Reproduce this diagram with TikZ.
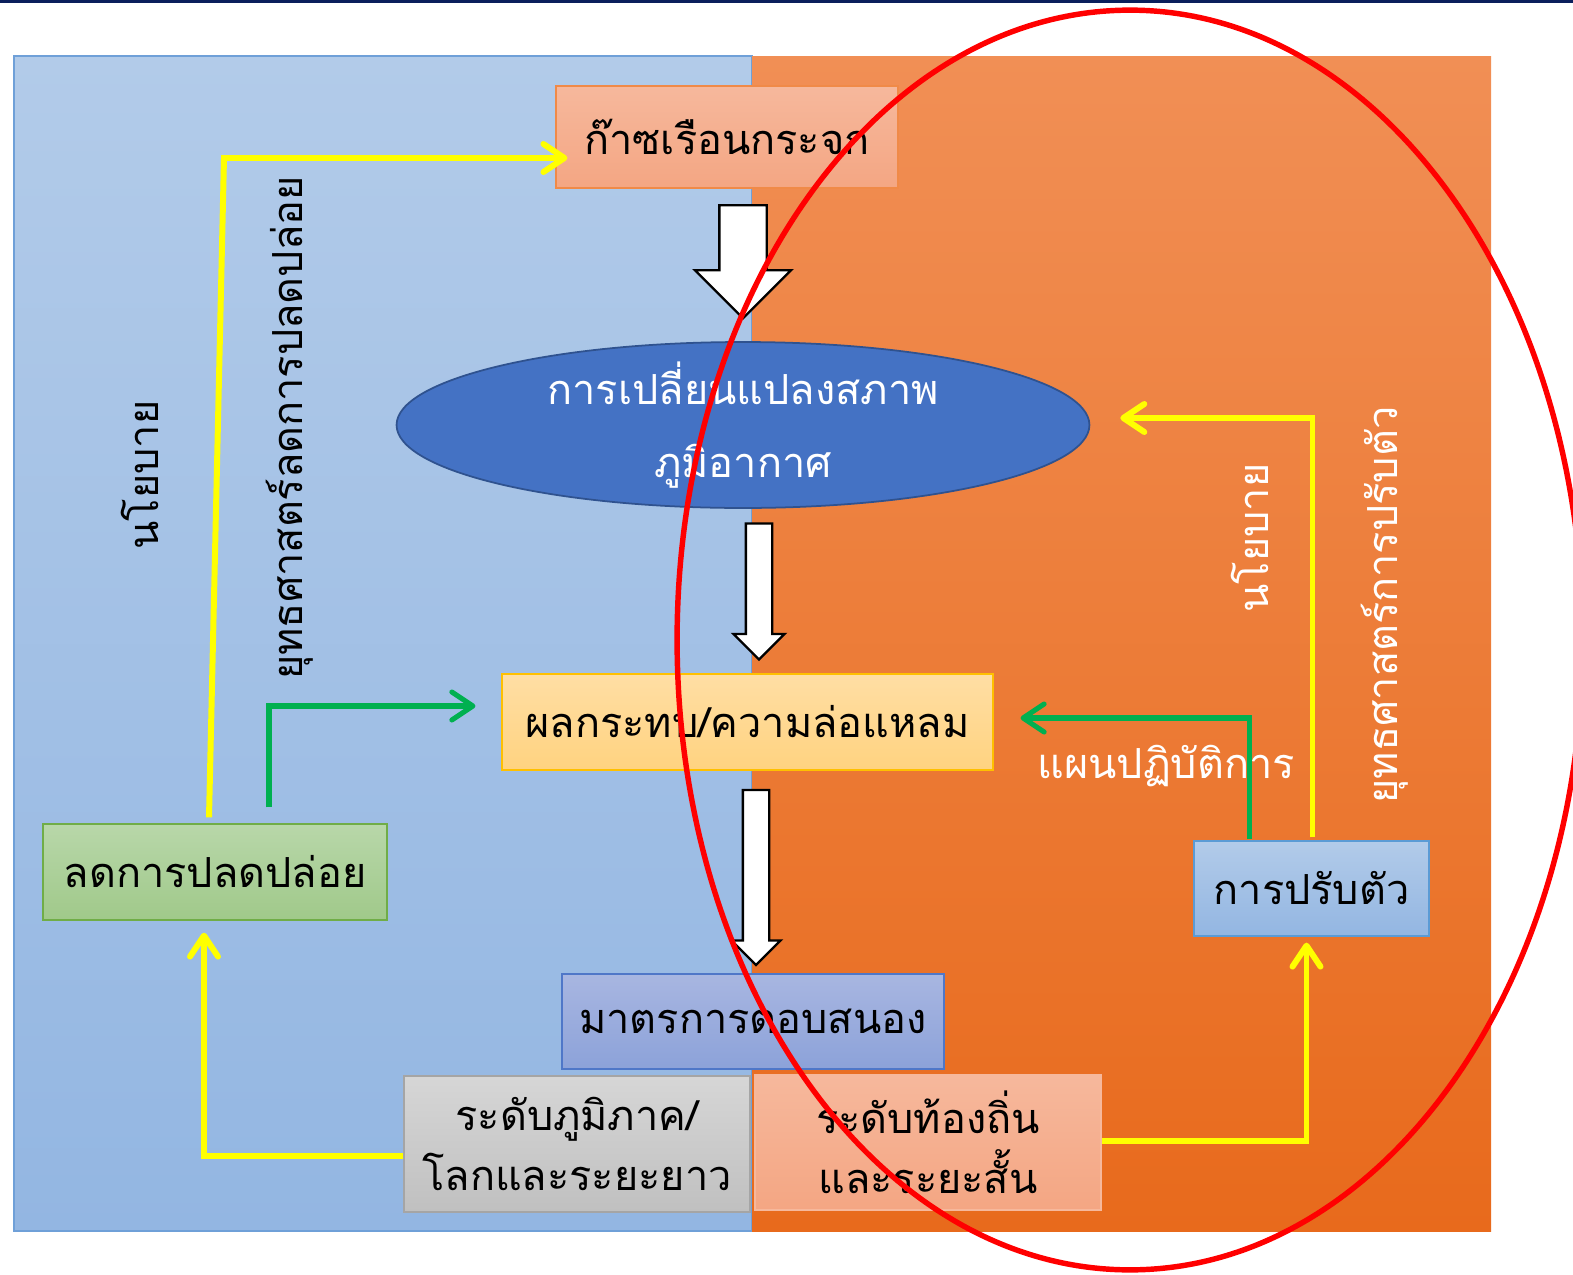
\documentclass[tikz,border=0pt]{standalone}
\usepackage{fontspec}
\newfontfamily\thaifont[Script=Thai]{Loma}
\usetikzlibrary{arrows.meta, calc, shapes.geometric, shapes.arrows}

\definecolor{topline}{HTML}{0B1F5C}
\definecolor{bluetop}{HTML}{B2CBE9}
\definecolor{bluebot}{HTML}{93B6E2}
\definecolor{blueedge}{HTML}{6FA0D8}
\definecolor{orangetop}{HTML}{F18F55}
\definecolor{orangemid}{HTML}{F47E30}
\definecolor{orangebot}{HTML}{E86A1C}
\definecolor{salmontop}{HTML}{F6B89C}
\definecolor{salmonbot}{HTML}{F4A683}
\definecolor{salmonedge}{HTML}{F08A48}
\definecolor{ellfill}{HTML}{4472C4}
\definecolor{elledge}{HTML}{2F528F}
\definecolor{goldtop}{HTML}{FFDEA4}
\definecolor{goldbot}{HTML}{FFD380}
\definecolor{goldedge}{HTML}{FFC000}
\definecolor{lilactop}{HTML}{A8B6E1}
\definecolor{lilacbot}{HTML}{8CA2D9}
\definecolor{lilacedge}{HTML}{4F77C8}
\definecolor{greentop}{HTML}{B8D7A9}
\definecolor{greenbot}{HTML}{A0C98A}
\definecolor{greenedge}{HTML}{70AD47}
\definecolor{greytop}{HTML}{D6D6D6}
\definecolor{greybot}{HTML}{C0C0C0}
\definecolor{greyedge}{HTML}{A5A5A5}
\definecolor{adaptedge}{HTML}{5B9BD5}
\definecolor{polyellow}{HTML}{FFFF00}
\definecolor{plangreen}{HTML}{00B050}
\definecolor{circlered}{HTML}{FF0000}

\begin{document}
\begin{tikzpicture}[
    x=0.02cm, y=-0.02cm,
    every node/.style={font=\thaifont\fontsize{23.6}{34}\selectfont},
    block/.style={
        draw,
        rectangle,
        align=center,
        inner sep=0pt,
        line width=0.7pt
    },
    bigarrow/.style={
        single arrow,
        draw=black,
        fill=white,
        line width=1.3pt,
        rotate=-90,
        inner xsep=0pt,
        minimum width=0pt
    },
    policy/.style={draw=polyellow, line width=3.4pt,
        -{Straight Barb[length=0.42cm, width=0.56cm, round]}},
    plan/.style={draw=plangreen, line width=2.9pt,
        -{Straight Barb[length=0.42cm, width=0.56cm, round]}}
]
\useasboundingbox (0,0) rectangle (1573,1275);

% ===== Background =====
\fill[topline] (0,0) rectangle (1573,3);
\shade[top color=bluetop, bottom color=bluebot, draw=blueedge, line width=0.6pt]
  (14,56) rectangle (752,1231);
\shade[top color=orangetop, middle color=orangemid, bottom color=orangebot]
  (752,56) rectangle (1491,1231);

% ===== Blocks =====
\node[block, top color=salmontop, bottom color=salmonbot, draw=salmonedge,
  minimum width=6.84cm, minimum height=2.04cm] (gas) at (727,137) {ก๊าซเรือนกระจก};

\node[ellipse, draw=elledge, fill=ellfill, line width=1pt, inner sep=0pt,
  minimum width=13.86cm, minimum height=3.32cm,
  label={[text=white, align=center, font=\thaifont\fontsize{23.6}{42}\selectfont]center:%
    การเปลี่ยนแปลงสภาพ\\ภูมิอากาศ}] (climate) at (743,425) {};

\node[block, top color=goldtop, bottom color=goldbot, draw=goldedge,
  minimum width=9.82cm, minimum height=1.92cm] (impact) at (747.5,722) {ผลกระทบ/ความล่อแหลม};

\node[block, top color=lilactop, bottom color=lilacbot, draw=lilacedge,
  minimum width=7.64cm, minimum height=1.9cm] (response) at (753,1021.5) {มาตรการตอบสนอง};

\node[block, top color=greentop, bottom color=greenbot, draw=greenedge,
  minimum width=6.88cm, minimum height=1.92cm] (reduce) at (215,872) {ลดการปลดปล่อย};

\node[block, top color=bluetop, bottom color=bluebot, draw=adaptedge,
  minimum width=4.7cm, minimum height=1.9cm] (adapt) at (1311.5,888.5) {การปรับตัว};

\node[block, top color=greytop, bottom color=greybot, draw=greyedge,
  minimum width=6.92cm, minimum height=2.72cm] (regional) at (577,1144)
  {ระดับภูมิภาค/\\โลกและระยะยาว};

\node[block, top color=salmontop, bottom color=salmonbot, draw=salmontop,
  minimum width=6.92cm, minimum height=2.7cm] (local) at (928,1142.5)
  {ระดับท้องถิ่น\\และระยะสั้น};

% ===== Block arrows =====
\node[bigarrow, inner ysep=0.45cm, single arrow head extend=0.49cm,
  minimum height=2.26cm] (down1) at (743,250) {};
\node[bigarrow, inner ysep=0.24cm, single arrow head extend=0.25cm,
  minimum height=2.72cm] (down2) at (759,585) {};
\node[bigarrow, inner ysep=0.24cm, single arrow head extend=0.23cm,
  minimum height=3.5cm] (down3) at (756,871) {};

% ===== Labels =====
\node[rotate=90] (pol1) at (140,475) {นโยบาย};
\node[rotate=90] (str1) at (290,428) {ยุทธศาสตร์ลดการปลดปล่อย};
\node[rotate=90, text=white] (pol2) at (1250,538) {นโยบาย};
\node[rotate=90, text=white] (str2) at (1385,605) {ยุทธศาสตร์การปรับตัว};
\node[text=white] (plantext) at (1166,766) {แผนปฏิบัติการ};

% ===== Connectors =====
\coordinate (bend1) at (224,158);
\draw[policy] ($(reduce.north)+(-6,-6)$) -- (bend1) -- ($(bend1 -| gas.west)+(12,0)$);
\draw[policy] ($(regional.west)+(0,12)$) -| ($(reduce.south)+(-11,12)$);
\draw[policy] ($(local.east)+(0,-2)$) -| ($(adapt.south)+(-5,6)$);
\draw[policy] ($(adapt.north)+(1,-3)$) |- ($(climate.east)+(30,-7)$);

\draw[plan] ($(reduce.north)+(54,-16)$) |- ($(impact.west)+(-26,-16)$);
\draw[plan] ($(adapt.north)+(-62,-1)$) |- ($(impact.east)+(27,-4)$);

% ===== Red ring =====
\draw[circlered, line width=3.1pt] (1130,640) ellipse [x radius=9.06cm, y radius=12.6cm];

\end{tikzpicture}
\end{document}
